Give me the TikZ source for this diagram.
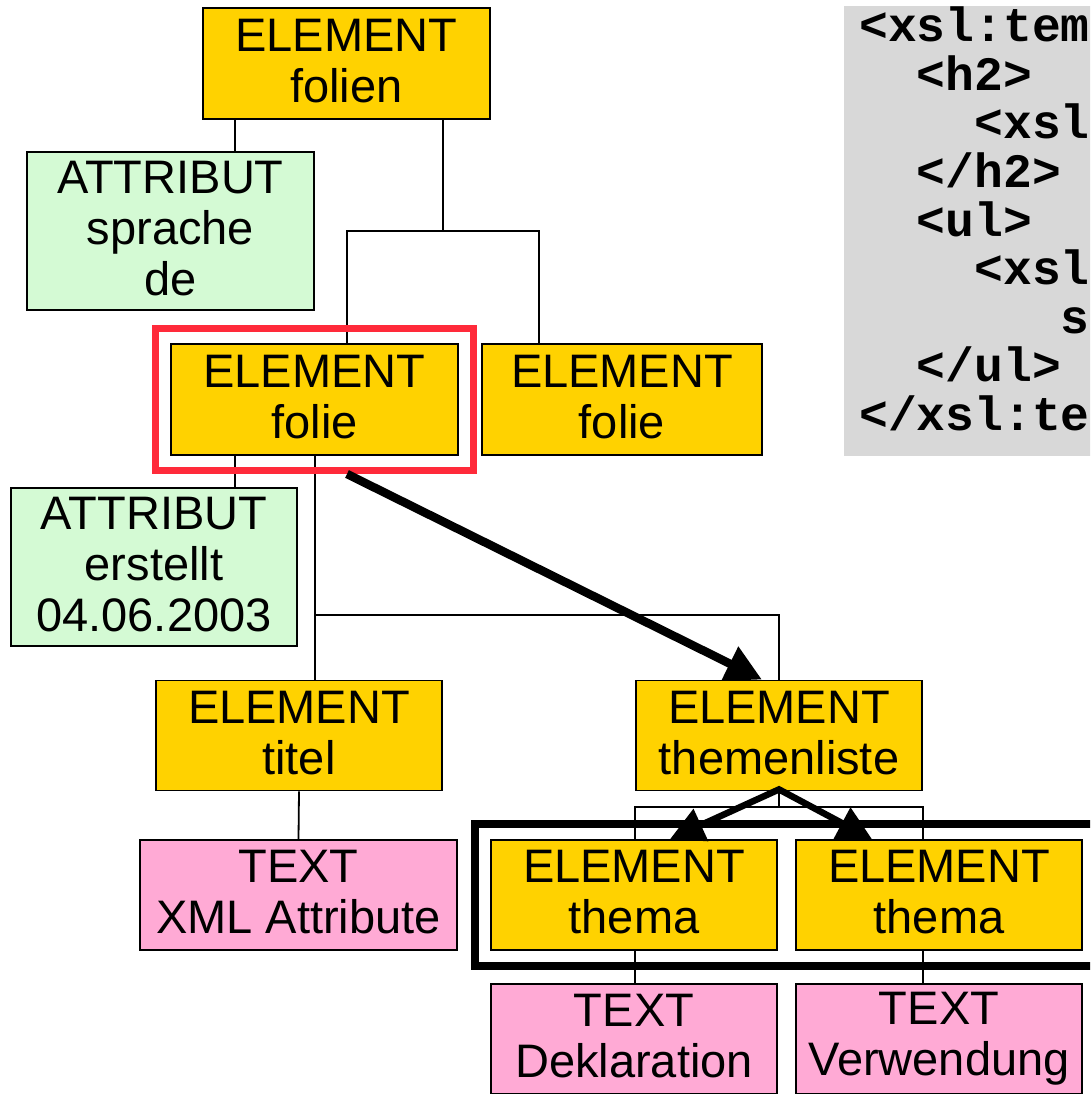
\documentclass[tikz,border=0pt]{standalone}
\usepackage{fontspec}
\setmainfont{Liberation Sans}
\setmonofont{Liberation Mono}
\usetikzlibrary{arrows.meta,calc}
\definecolor{elyellow}{HTML}{FFD200}
\definecolor{attrgreen}{HTML}{D4FAD4}
\definecolor{txtpink}{HTML}{FFAAD5}
\definecolor{codegray}{HTML}{D8D8D8}
\definecolor{selred}{HTML}{FF2A3A}
\pgfdeclarelayer{background}
\pgfsetlayers{background,main}
\begin{document}
\begin{tikzpicture}[x=1pt,y=-1pt,
  box/.style={draw=black, line width=1.8pt, inner sep=0pt, align=center,
    font=\fontsize{47}{51}\selectfont, minimum width=286pt, minimum height=110pt,
    execute at end node={\rule[-6pt]{0pt}{6pt}}},
  elem/.style={box, fill=elyellow},
  attr/.style={box, fill=attrgreen, minimum height=158pt},
  txt/.style={box, fill=txtpink},
  conn/.style={line width=1.8pt},
  bigarrow/.style={line width=8.5pt, -{Triangle[length=36pt,width=36pt]}},
  twoarrow/.style={line width=6.5pt, {Triangle[length=34pt,width=34pt]}-{Triangle[length=34pt,width=34pt]}},
  code/.style={anchor=base west, inner sep=0pt, font=\ttfamily\bfseries\fontsize{48}{48}\selectfont},
  frame/.style={inner sep=0pt},
]
\useasboundingbox (0,0) rectangle (1090,1094);
\clip (0,0) rectangle (1090,1094);

% code panel
\path[fill=codegray] (844,6) rectangle (1100,456);
\node[code] (code1) at (859,42) {<xsl:tem};
\node[code] (code2) at (916.6,90.5) {<h2>};
\node[code] (code3) at (974.2,139) {<xsl};
\node[code] (code4) at (916.6,187.5) {</h2>};
\node[code] (code5) at (916.6,236) {<ul>};
\node[code] (code6) at (974.2,284.5) {<xsl};
\node[code] (code7) at (1060.6,333) {s};
\node[code] (code8) at (916.6,381.5) {</ul>};
\node[code] (code9) at (859,430) {</xsl:te};

% connector geometry
\coordinate (xa) at (235,0);
\coordinate (busA) at (443,231);
\coordinate (xb) at (347,0);
\coordinate (xc) at (539,0);
\coordinate (busB) at (315,615);
\coordinate (busC) at (779,807);
\coordinate (xd) at (635,0);
\coordinate (xe) at (923,0);

% nodes
\node[elem, minimum width=287pt, minimum height=111pt] (folien) at (346.5,63.5) {ELEMENT\\folien};
\node[attr, minimum width=287pt] (sprache) at (170.5,231) {ATTRIBUT\\sprache\\de};
\node[elem, minimum width=287pt, minimum height=111pt] (folie1) at (314.5,399.5) {ELEMENT\\folie};
\node[elem, minimum width=280pt, minimum height=111pt] (folie2) at (622,399.5) {ELEMENT\\folie};
\node[attr] (erstellt) at (154,567) {ATTRIBUT\\erstellt\\04.06.2003};
\node[elem] (titel) at (299,735.5) {ELEMENT\\titel};
\node[elem] (themen) at (779,735.5) {ELEMENT\\themenliste};
\node[txt, minimum width=317pt] (xmlattr) at (298.5,895) {TEXT\\XML Attribute};
\node[elem] (thema1) at (634,895) {ELEMENT\\thema};
\node[elem] (thema2) at (939,895) {ELEMENT\\thema};
\node[txt] (dekl) at (634,1039) {TEXT\\Deklaration};
\node[txt] (verw) at (939,1039) {TEXT\\Verwendung};

% connectors behind the boxes
\begin{pgfonlayer}{background}
\draw[conn] (xa |- folien.south) -- (xa |- sprache.north);
\draw[conn] (busA |- folien.south) -- (busA);
\draw[conn] (xb |- folie1.north) -- (xb |- busA) -- (xc |- busA) -- (xc |- folie2.north);
\draw[conn] (xa |- folie1.south) -- (xa |- erstellt.north);
\draw[conn] (busB |- folie1.south) -- (busB |- titel.north);
\draw[conn] (busB) -- (busB -| themen.north) -- (themen.north);
\draw[conn] (titel.south) -- (xmlattr.north);
\draw[conn] (themen.south) -- (busC);
\draw[conn] (xd |- thema1.north) -- (xd |- busC) -- (xe |- busC) -- (xe |- thema2.north);
\draw[conn] (xd |- thema1.south) -- (xd |- dekl.north);
\draw[conn] (xe |- thema2.south) -- (xe |- verw.north);
\end{pgfonlayer}

% highlight frames
\node[frame, draw=selred, line width=7pt, minimum width=318pt, minimum height=142pt] (sel) at (314.5,399.5) {};
\node[frame, draw=black, line width=7.5pt, minimum width=635pt, minimum height=142pt] (group) at (792.5,895) {};

% arrows
\draw[bigarrow] ($(sel.south)+(32.5,0)$) -- ($(themen.north)+(-17,0)$);
\draw[twoarrow] ($(thema1.north)+(36,0)$) -- ($(themen.south)+(0,-2)$) -- ($(thema2.north)+(-67,0)$);
\end{tikzpicture}
\end{document}
